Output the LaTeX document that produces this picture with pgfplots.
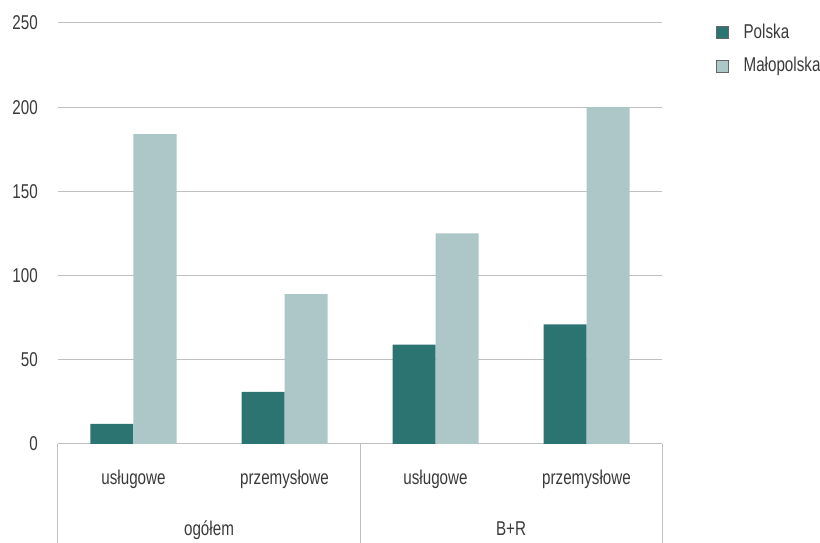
\documentclass[border=0pt]{standalone}
\usepackage{pgfplots}
\pgfplotsset{compat=1.18}
\usepackage{fontspec}
\setmainfont{Liberation Sans}[FakeStretch=0.76]
\definecolor{dark}{HTML}{2C7471}
\definecolor{light}{HTML}{ADC6C7}
\definecolor{gridc}{HTML}{BFBFBF}
\definecolor{txt}{HTML}{3A3A3A}
\begin{document}
\fontsize{20}{24}\selectfont
\begin{tikzpicture}[x=1pt,y=1pt]
\path[use as bounding box] (0,0) rectangle (820,543);
\begin{axis}[
  at={(58pt,99pt)}, anchor=south west,
  width=604pt, height=421pt, scale only axis,
  xmin=-0.5, xmax=3.5, ymin=0, ymax=250,
  clip=false,
  axis lines*=left,
  x axis line style={draw=gridc, line width=1pt},
  y axis line style={draw=none},
  ytick={0,50,100,150,200,250},
  ymajorgrids, grid style={draw=gridc, line width=1pt},
  major tick length=0pt,
  xtick={0,1,2,3},
  xticklabels={usługowe,przemysłowe,usługowe,przemysłowe},
  xticklabel style={anchor=base, yshift=-41pt, inner sep=0pt},
  yticklabel style={anchor=east, inner sep=0pt, xshift=-20pt},
  tick label style={text=txt, font=\fontsize{20}{24}\selectfont},
  /pgf/number format/assume math mode=true,
  ybar, bar width=43pt,
  legend image code/.code={\draw[#1, draw=black!60, line width=0.8pt] (0pt,-6pt) rectangle (12pt,6pt); \path (25pt,0pt);},
  legend style={draw=none, fill=none, at={(axis description cs:1.0894,1.003)}, anchor=north west,
    row sep=12pt, cells={anchor=west}, text=txt, inner sep=0pt,
    font=\fontsize{20}{24}\selectfont},
]
\addplot[fill=dark, draw=none, bar shift=-21.5pt] coordinates {(0,12) (1,31) (2,59) (3,71)};
\addlegendentry{Polska}
\addplot[fill=light, draw=none, bar shift=21.5pt] coordinates {(0,184) (1,89) (2,125) (3,200)};
\addlegendentry{Małopolska}
\draw[gridc, line width=1pt] (axis cs:-0.5,0) -- ++(0pt,-99pt);
\draw[gridc, line width=1pt] (axis cs:1.5,0) -- ++(0pt,-99pt);
\draw[gridc, line width=1pt] (axis cs:3.5,0) -- ++(0pt,-99pt);
\node[anchor=base, text=txt, inner sep=0pt] at ([yshift=-92pt]axis cs:0.5,0) {ogółem};
\node[anchor=base, text=txt, inner sep=0pt] at ([yshift=-92pt]axis cs:2.5,0) {B+R};
\end{axis}
\end{tikzpicture}
\end{document}
